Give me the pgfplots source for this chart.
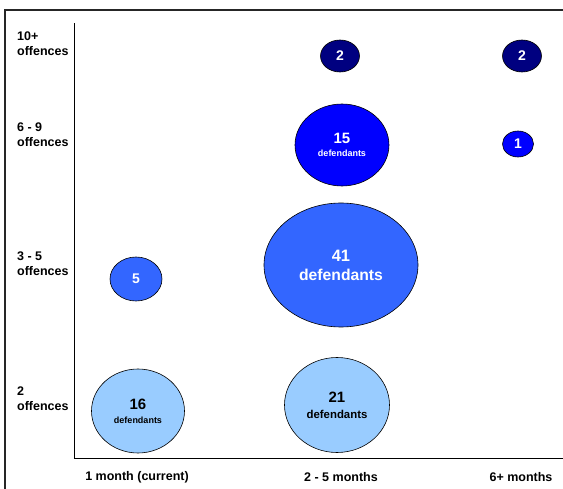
\documentclass[border=0pt]{standalone}
\usepackage{pgfplots}
\pgfplotsset{compat=1.18}
\usepackage{fontspec}
\setmainfont{Liberation Sans}
\definecolor{cnavy}{HTML}{000080}
\definecolor{cblue}{HTML}{0000FF}
\definecolor{cmid}{HTML}{3366FF}
\definecolor{clight}{HTML}{99CCFF}
\pgfdeclareplotmark{bubble}{\pgfpathellipse{\pgfpointorigin}{\pgfpoint{\rx pt}{0pt}}{\pgfpoint{0pt}{\ry pt}}\pgfusepathqfillstroke}
\newcommand\twol[5]{\vbox{\baselineskip=#5pt\lineskiplimit=-100pt\halign{\hfil##\hfil\cr\fontsize{#1}{#1}\selectfont\bfseries #3\cr\fontsize{#2}{#2}\selectfont\bfseries #4\cr}}}
\newcommand\bubS{\twol{15}{9}{16}{defendants}{14}}
\newcommand\bubT{\twol{15}{11.4}{21}{defendants}{16}}
\newcommand\bubC{\twol{16.5}{15.7}{41}{defendants}{19}}
\newcommand\bubD{\twol{15}{9}{15}{defendants}{13}}
\newcommand\bubE{\fontsize{14}{14}\selectfont\bfseries 5}
\newcommand\bubF{\fontsize{14}{14}\selectfont\bfseries 2}
\newcommand\bubG{\fontsize{14}{14}\selectfont\bfseries 1}
\begin{document}
\begin{tikzpicture}
\begin{axis}[
  scale only axis, width=489pt, height=435pt,
  xmin=74, xmax=563, ymin=-458, ymax=-23,
  axis x line=bottom, axis y line=left,
  axis line style={-, black, line width=0.9pt},
  xtick={137,341,521},
  xticklabels={1 month (current), 2 - 5 months, 6+ months},
  ytick={-44,-135,-264,-399},
  yticklabels={{10+\\offences},{6 - 9\\offences},{3 - 5\\offences},{2\\offences}},
  major tick length=0pt,
  tick label style={font=\fontsize{12.5}{15}\selectfont\bfseries, inner sep=0pt},
  xticklabel style={anchor=center, yshift=-19pt},
  yticklabel style={anchor=west, align=left, xshift=-57pt},
  clip=false,
  point meta=explicit symbolic,
  nodes near coords={\csname bub\pgfplotspointmeta\endcsname},
  every node near coord/.append style={anchor=center, inner sep=0pt},
  visualization depends on={value \thisrow{rx} \as \rx},
  visualization depends on={value \thisrow{ry} \as \ry},
]
\addplot[only marks, mark=bubble, mark options={fill=cnavy, draw=black, line width=0.6pt},
  every node near coord/.append style={text=white}] table[x=x,y=y,meta=lab]{
x y rx ry lab
340 -56 19.5 16 F
522 -56 19.5 16 F
};
\addplot[only marks, mark=bubble, mark options={fill=cblue, draw=black, line width=0.6pt},
  every node near coord/.append style={text=white}] table[x=x,y=y,meta=lab]{
x y rx ry lab
342 -145 47 41 D
518 -144 15.5 13 G
};
\addplot[only marks, mark=bubble, mark options={fill=cmid, draw=black, line width=0.6pt},
  every node near coord/.append style={text=white}] table[x=x,y=y,meta=lab]{
x y rx ry lab
341 -265 77 62 C
136 -279 26 22 E
};
\addplot[only marks, mark=bubble, mark options={fill=clight, draw=black, line width=0.6pt},
  every node near coord/.append style={text=black}] table[x=x,y=y,meta=lab]{
x y rx ry lab
138 -411 46.5 42 S
337 -405 52.5 47.5 T
};
\draw[line width=1.4pt, black!85] (axis cs:5,-490) -- (axis cs:5,-10) -- (axis cs:565,-10);
\coordinate (TL) at (axis cs:0,0);
\coordinate (BR) at (axis cs:563,-488);
\end{axis}
\pgfresetboundingbox
\useasboundingbox (TL) rectangle (BR);
\end{tikzpicture}
\end{document}
